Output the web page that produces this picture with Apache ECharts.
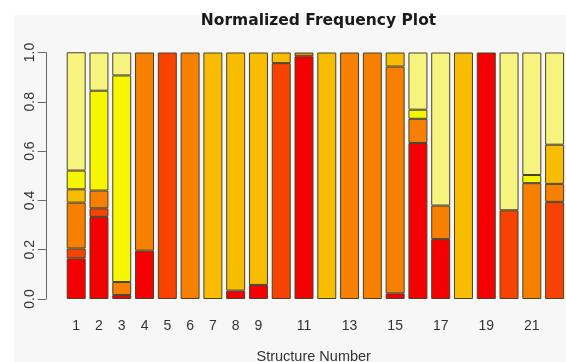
<!DOCTYPE html>
<html>
<head>
<meta charset="utf-8">
<script src="https://cdn.jsdelivr.net/npm/echarts@6/dist/echarts.min.js"></script>
<style>
html,body{margin:0;padding:0;background:#fff;}
#chart{width:566px;height:362px;}
</style>
</head>
<body>
<div id="chart"></div>
<script>
// Categories (structure numbers)
const categories = ['1','2','3','4','5','6','7','8','9','10','11','12','13','14','15','16','17','18','19','20','21','22'];
// Stacked segments, bottom to top (heat colors)
const redVals       = [0.165,0.333,0.016,0.196,0,0,0,0.034,0.057,0,0.985,0,0,0,0.023,0.633,0.243,0,1,0,0,0];
const redOrangeVals = [0.040,0.035,0,0,1,0,0,0,0,0.957,0,0,0,0,0,0,0,0,0,0.360,0,0.394];
const orangeVals    = [0.186,0.072,0.053,0.804,0,1,0,0,0,0,0.015,0,1,1,0.920,0.098,0.136,0,0,0,0.470,0.073];
const goldVals      = [0.054,0,0,0,0,0,1,0.966,0.943,0.043,0,1,0,0,0.057,0,0,1,0,0,0,0.159];
const yellowVals    = [0.076,0.405,0.838,0,0,0,0,0,0,0,0,0,0,0,0,0.037,0,0,0,0,0.033,0];
const lightYellowVals = [0.480,0.155,0.093,0,0,0,0,0,0,0,0,0,0,0,0,0.232,0.621,0,0,0.640,0.497,0.374];
const yTicks = ['0.0','0.2','0.4','0.6','0.8','1.0'];

const segColors = ['#F40000','#F84200','#F88000','#F8BC00','#F6F600','#F6F47E'];
const segData = [redVals, redOrangeVals, orangeVals, goldVals, yellowVals, lightYellowVals];

const chart = echarts.init(document.getElementById('chart'), null, {renderer:'canvas'});
const option = {
  backgroundColor: '#ffffff',
  animation: false,
  grid: {left: 64.8, right: -4.8, top: 52.5, bottom: 63},
  graphic: [
    {type:'rect', z:-10, shape:{x:14, y:15, width:552, height:347}, style:{fill:'#f7f7f7'}},
    {type:'text', x:318.5, y:20.5, style:{text:'Normalized Frequency Plot', font:'bold 15.5px "DejaVu Sans"', fill:'#1a1a1a', align:'center', verticalAlign:'middle'}},
    {type:'text', x:313.7, y:356.5, style:{text:'Structure Number', font:'14.5px "Liberation Sans"', fill:'#333', align:'center', verticalAlign:'middle'}}
  ],
  xAxis: {
    type:'category',
    data: categories,
    axisLine:{show:false},
    axisTick:{show:false},
    axisLabel:{
      interval: function(i){ return i < 9 || i % 2 === 0; },
      margin: 20,
      fontFamily:'Liberation Sans',
      fontSize: 14,
      color:'#333'
    }
  },
  yAxis: {
    type:'value',
    min:0, max:1, interval:0.2,
    offset: 19,
    axisLine:{show:true, lineStyle:{color:'#666', width:1}},
    axisTick:{show:true, length:8, lineStyle:{color:'#666', width:1}},
    splitLine:{show:false},
    axisLabel:{
      rotate: 90,
      margin: 9,
      fontFamily:'Liberation Sans',
      fontSize: 14,
      color:'#333',
      formatter: function(v){ return yTicks[Math.round(v/0.2)]; }
    }
  },
  series: segData.map(function(d, k){
    return {
      type:'bar',
      stack:'total',
      data:d.map(function(v){ return v === 0 ? '-' : v; }),
      barWidth:'83.3%',
      itemStyle:{color:segColors[k], borderColor:'#47432f', borderWidth:1}
    };
  })
};
chart.setOption(option);
</script>
</body>
</html>
